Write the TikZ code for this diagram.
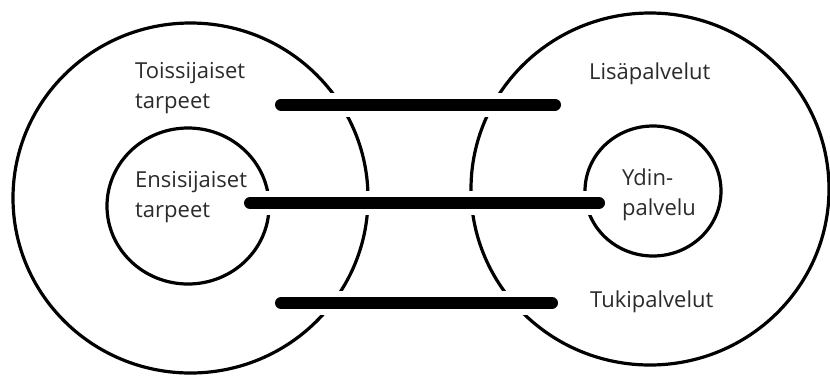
\documentclass[tikz,border=0pt]{standalone}
\usepackage{fontspec}
\setmainfont{Open Sans}
\definecolor{txt}{HTML}{2B2B2B}
\begin{document}
\begin{tikzpicture}[x=1pt,y=-1pt,
  ring/.style={draw=black,line width=3.2pt},
  halo/.style={draw=white,line width=24pt,line cap=round},
  bar/.style={draw=black,line width=12pt,line cap=round},
  lab/.style={inner sep=0pt,anchor=base west,align=left,text=txt,
    font=\fontsize{22}{30}\selectfont}]
\useasboundingbox (0,0) rectangle (830,376);
\fill[white] (0,0) rectangle (830,376);
% circles
\draw[ring] (190.5,198) ellipse [x radius=177.5pt, y radius=175pt];
\draw[ring] (188,206) ellipse [x radius=81pt, y radius=78pt];
\draw[ring] (650,189) ellipse [x radius=179pt, y radius=176pt];
\draw[ring] (653,191) ellipse [x radius=68pt, y radius=65pt];
% bar ends
\coordinate (a1) at (281,104.5);
\coordinate (b1) at (555,104.5);
\coordinate (a2) at (250,203);
\coordinate (b2) at (599,203);
\coordinate (a3) at (281,303);
\coordinate (b3) at (552,303);
\foreach \s/\e in {a1/b1,a2/b2,a3/b3} \draw[halo] (\s) -- (\e);
\foreach \s/\e in {a1/b1,a2/b2,a3/b3} \draw[bar] (\s) -- (\e);
% labels (base anchor = baseline of last line)
\node[lab] (toiss) at (135,108) {Toissijaiset\\tarpeet};
\node[lab] (ensi) at (135,217) {Ensisijaiset\\tarpeet};
\node[lab] (lisa) at (589,79) {Lisäpalvelut};
\node[lab] (ydin) at (622,215) {Ydin-\\palvelu};
\node[lab] (tuki) at (590,307) {Tukipalvelut};
\end{tikzpicture}
\end{document}
